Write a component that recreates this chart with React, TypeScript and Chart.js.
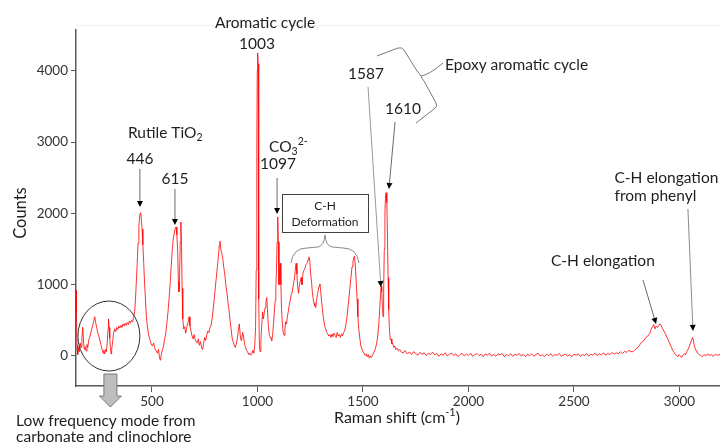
import React, { useEffect, useRef } from "react";
import { Chart, registerables } from "chart.js";

Chart.register(...registerables);

const FONT = "Lato, 'Open Sans', sans-serif";

// ---- axes ----
const xRange = [140, 3192];
const yRange = [-421, 4572];
const xTickValues = [500, 1000, 1500, 2000, 2500, 3000];
const yTickValues = [0, 1000, 2000, 3000, 4000];

// ---- spectrum: [Raman shift (cm-1), counts] ----
const lowFrequency: [number, number][] = [
  [140, 920], [142, 600], [145, 150], [148, 20], [152, 120], [156, 60], [160, 180], [164, 120],
  [168, 260], [172, 400], [176, 180], [180, 90], [184, 130], [188, 70], [192, 160], [196, 120],
  [200, 220], [205, 260], [210, 320], [215, 380], [220, 440], [225, 500], [229, 550], [233, 470],
  [238, 400], [243, 330], [248, 280], [253, 220], [258, 160], [263, 100], [268, 40], [272, 80],
  [276, 30], [280, 90], [284, 60], [288, 180], [292, 380], [294, 520], [297, 400], [300, 250],
  [303, 120], [306, 30], [309, 90], [313, 180], [318, 320], [323, 380], [328, 340], [333, 400],
  [338, 370], [343, 420], [348, 390], [353, 430], [358, 400], [363, 450], [368, 420], [373, 460],
  [378, 430], [383, 470], [388, 440], [393, 490], [398, 460], [403, 500], [408, 480], [413, 540],
  [418, 620],
];

const rutileRegion: [number, number][] = [
  [422, 800], [426, 1050], [430, 1300], [434, 1580], [438, 1820], [442, 1970], [446, 2010],
  [449, 1950], [453, 1780], [457, 1560], [461, 1300], [465, 1020], [469, 800], [473, 580],
  [478, 420], [484, 300], [490, 230], [496, 170], [502, 140], [508, 180], [514, 100], [520, 70],
  [526, 40], [531, 90], [536, -30], [540, -60], [545, 30], [550, 90], [555, 140], [560, 230],
  [566, 330], [571, 470], [576, 620], [581, 800], [586, 1000], [591, 1250], [596, 1480],
  [601, 1640], [606, 1720], [610, 1790], [614, 1810], [618, 1700], [622, 1450], [625, 1050],
  [628, 900], [631, 1150], [634, 1600], [637, 1880], [640, 1550], [643, 950], [646, 520],
  [650, 380], [655, 410], [660, 320], [666, 420], [671, 470], [676, 550], [680, 420], [685, 350],
  [690, 280], [695, 240],
];

const midRegion: [number, number][] = [
  [700, 300], [705, 230], [710, 200], [715, 180], [720, 240], [725, 150], [730, 200], [735, 120],
  [740, 90], [745, 180], [750, 260], [755, 220], [760, 300], [765, 350], [770, 330], [775, 400],
  [780, 430], [785, 520], [790, 650], [795, 800], [800, 950], [805, 1100], [810, 1250],
  [815, 1400], [819, 1550], [822, 1610], [826, 1500], [830, 1450], [835, 1380], [840, 1250],
  [845, 1150], [850, 1000], [855, 900], [860, 760], [865, 650], [870, 500], [875, 380], [880, 250],
  [885, 200], [890, 150], [895, 120], [900, 180], [905, 250], [910, 380], [914, 450], [918, 300],
  [922, 220], [926, 250], [930, 330], [934, 280], [938, 180], [943, 120], [948, 80], [953, 60],
  [958, 20], [963, 40], [968, 10], [973, 30], [978, 80], [983, 40], [987, 150], [991, 400],
];

const aromaticRegion: [number, number][] = [
  [994, 1200], [997, 3000], [999, 4000], [1001, 4250], [1003, 4100], [1005, 2500], [1007, 800],
  [1009, 150], [1012, 60], [1016, 200], [1020, 420], [1024, 620], [1028, 520], [1032, 600],
  [1036, 680], [1040, 760], [1044, 820], [1048, 600], [1052, 400], [1056, 300], [1060, 260],
  [1064, 250], [1068, 210], [1072, 300], [1076, 450], [1080, 620], [1084, 780], [1087, 950],
  [1090, 1200], [1093, 1600], [1096, 1950], [1099, 1600], [1102, 1000], [1105, 1200],
  [1108, 1300], [1111, 1000], [1114, 650], [1118, 450], [1122, 330], [1126, 290], [1130, 380],
  [1134, 480], [1138, 450], [1142, 560], [1146, 620], [1150, 700], [1155, 780], [1160, 860],
  [1165, 900], [1170, 1000], [1175, 1080], [1179, 1200], [1183, 1300], [1187, 1150],
  [1191, 950], [1195, 880], [1199, 1000], [1203, 1050], [1207, 1100], [1211, 1000], [1215, 1150],
  [1220, 1200], [1225, 1230], [1230, 1280], [1235, 1300], [1240, 1350], [1244, 1390],
  [1248, 1330], [1252, 1150], [1256, 1050], [1260, 900], [1264, 800], [1268, 740], [1272, 700],
  [1276, 680], [1280, 780], [1284, 860], [1288, 920], [1292, 980], [1296, 1010],
];

const deformationRegion: [number, number][] = [
  [1300, 900], [1304, 760], [1308, 650], [1313, 520], [1318, 430], [1323, 380], [1328, 330],
  [1333, 310], [1338, 280], [1343, 300], [1348, 260], [1353, 310], [1358, 270], [1363, 320],
  [1368, 290], [1373, 260], [1378, 330], [1383, 280], [1388, 300], [1393, 260], [1398, 310],
  [1403, 280], [1408, 330], [1413, 350], [1418, 420], [1423, 520], [1428, 650], [1433, 800],
  [1438, 950], [1443, 1100], [1448, 1250], [1452, 1300], [1456, 1380], [1460, 1400],
  [1464, 1250], [1468, 1050], [1472, 800], [1476, 550], [1480, 380], [1485, 250], [1490, 140],
  [1495, 100], [1500, 60], [1505, 40], [1510, 10], [1515, 30], [1520, -10], [1525, 20],
  [1530, -30], [1535, 0], [1540, -20], [1545, 10], [1550, 40], [1555, 70], [1560, 120],
  [1565, 180], [1570, 280], [1575, 450], [1579, 650], [1583, 850], [1586, 980], [1589, 900],
  [1592, 700], [1595, 550], [1598, 900], [1601, 1500], [1604, 2000], [1607, 2250], [1610, 2290],
  [1613, 2150], [1616, 1700], [1619, 1100], [1622, 650], [1625, 400], [1629, 230], [1633, 240],
  [1637, 170], [1641, 180], [1646, 120], [1651, 140], [1656, 90], [1662, 110], [1668, 70],
  [1675, 90],
];

const flatBaseline: [number, number][] = [
  [1680, 60], [1690, 40], [1700, 75], [1710, 30], [1720, 55], [1730, 20], [1740, 60], [1750, 35],
  [1760, 10], [1770, 50], [1780, 25], [1790, 45], [1800, 5], [1810, 40], [1820, 20], [1830, 55],
  [1840, 15], [1850, 35], [1860, -5], [1870, 30], [1880, 10], [1890, 45], [1900, 0], [1910, 25],
  [1920, 40], [1930, 5], [1940, 30], [1950, -10], [1960, 20], [1970, 35], [1980, 0], [1990, 25],
  [2000, 10], [2010, 40], [2020, -5], [2030, 20], [2040, 35], [2050, 5], [2060, 25], [2070, -10],
  [2080, 30], [2090, 10], [2100, 40], [2110, 0], [2120, 20], [2130, -5], [2140, 30], [2150, 15],
  [2160, 35], [2170, -10], [2180, 20], [2190, 5], [2200, 30], [2210, -5], [2220, 25], [2230, 10],
  [2240, 35], [2250, 0], [2260, 20], [2270, -10], [2280, 25], [2290, 5], [2300, 30], [2310, -5],
  [2320, 20], [2330, 40], [2340, 0], [2350, 15], [2360, -10], [2370, 25], [2380, 5], [2390, 30],
  [2400, -5], [2410, 20], [2420, 10], [2430, 35], [2440, -5], [2450, 15], [2460, 25], [2470, 0],
  [2480, 20], [2490, -10], [2500, 25], [2510, 10], [2520, 30], [2530, -5], [2540, 20], [2550, 5],
  [2560, 35], [2570, 0], [2580, 25], [2590, 10], [2600, 40], [2610, 5], [2620, 30], [2630, 15],
  [2640, 45], [2650, 10], [2660, 35], [2670, 20], [2680, 50], [2690, 25], [2700, 45], [2710, 30],
  [2720, 60], [2730, 35], [2740, 65], [2750, 50], [2760, 80], [2770, 60],
];

const chStretchRegion: [number, number][] = [
  [2780, 60], [2790, 90], [2800, 110], [2810, 150], [2820, 190], [2830, 210], [2840, 260],
  [2850, 280], [2860, 320], [2866, 380], [2872, 410], [2878, 440], [2884, 380], [2890, 420],
  [2896, 400], [2902, 430], [2908, 450], [2914, 420], [2920, 380], [2926, 350], [2932, 320],
  [2938, 280], [2944, 240], [2950, 200], [2956, 160], [2962, 120], [2968, 80], [2974, 50],
  [2980, 20], [2986, 10], [2992, -10], [2998, 20], [3004, 0], [3010, -20], [3016, 10], [3022, 30],
  [3028, 20], [3034, 60], [3040, 90], [3046, 130], [3052, 180], [3058, 230], [3062, 260],
  [3066, 220], [3070, 150], [3075, 100], [3080, 70], [3086, 40], [3092, 20], [3100, 10],
  [3108, -10], [3116, 20], [3124, 0], [3132, 30], [3140, 10], [3150, 20], [3160, -5], [3170, 25],
  [3180, 10], [3192, 20],
];

const spectrum = [
  ...lowFrequency, ...rutileRegion, ...midRegion, ...aromaticRegion,
  ...deformationRegion, ...flatBaseline, ...chStretchRegion,
].map(([x, y]) => ({ x, y }));

// ---- annotations (positions in data units: cm-1, counts) ----
type Part = { t: string; sub?: boolean; sup?: boolean };
type Label = { parts: Part[]; x: number; y: number; align: "left" | "center"; size: number };

const labels: Label[] = [
  { parts: [{ t: "Aromatic cycle" }], x: 1036, y: 4670, align: "center", size: 15.5 },
  { parts: [{ t: "1003" }], x: 998, y: 4380, align: "center", size: 15.5 },
  { parts: [{ t: "Rutile TiO" }, { t: "2", sub: true }], x: 386, y: 3130, align: "left", size: 15.5 },
  { parts: [{ t: "446" }], x: 443, y: 2765, align: "center", size: 15.5 },
  { parts: [{ t: "615" }], x: 609, y: 2484, align: "center", size: 15.5 },
  { parts: [{ t: "CO" }, { t: "3", sub: true }, { t: "2-", sup: true }], x: 1055, y: 2935, align: "left", size: 15.5 },
  { parts: [{ t: "1097" }], x: 1097, y: 2695, align: "center", size: 15.5 },
  { parts: [{ t: "C-H" }], x: 1320, y: 2104, align: "center", size: 12 },
  { parts: [{ t: "Deformation" }], x: 1320, y: 1879, align: "center", size: 12 },
  { parts: [{ t: "1587" }], x: 1514, y: 3957, align: "center", size: 15.5 },
  { parts: [{ t: "1610" }], x: 1690, y: 3466, align: "center", size: 15.5 },
  { parts: [{ t: "Epoxy aromatic cycle" }], x: 1889, y: 4083, align: "left", size: 15.5 },
  { parts: [{ t: "C-H elongation" }], x: 2637, y: 1334, align: "center", size: 15.5 },
  { parts: [{ t: "C-H elongation" }], x: 2692, y: 2498, align: "left", size: 15.5 },
  { parts: [{ t: "from phenyl" }], x: 2692, y: 2246, align: "left", size: 15.5 },
  { parts: [{ t: "Low frequency mode from" }], x: -144, y: -912, align: "left", size: 15.5 },
  { parts: [{ t: "carbonate and clinochlore" }], x: -144, y: -1136, align: "left", size: 15.5 },
  { parts: [{ t: "Raman shift (cm" }, { t: "-1", sup: true }, { t: ")" }], x: 1661, y: -870, align: "center", size: 16 },
];

type Arrow = { from: [number, number]; to: [number, number]; color: string };
const arrows: Arrow[] = [
  { from: [443, 2623], to: [443, 2090], color: "#6b6b6b" },
  { from: [609, 2342], to: [609, 1837], color: "#6b6b6b" },
  { from: [1093, 2496], to: [1093, 1992], color: "#6b6b6b" },
  { from: [1524, 3773], to: [1585, 968], color: "#9a9a9a" },
  { from: [1652, 3282], to: [1623, 2342], color: "#6b6b6b" },
  { from: [2827, 1066], to: [2889, 449], color: "#6b6b6b" },
  { from: [3040, 2062], to: [3064, 351], color: "#8a8a8a" },
];

const deformationBox = { x0: 1116, y0: 2272, x1: 1524, y1: 1739 };
const deformationBraceTip: [number, number] = [1320, 1697];
const epoxyBraceMid: [number, number] = [1775, 3927];
const lowFreqCircle: [number, number] = [296, 280];
const countsTitle: [number, number] = [-121, 2005];

function drawRich(ctx: CanvasRenderingContext2D, lab: Label, px: number, py: number) {
  const s = lab.size;
  const small = s * 0.68;
  const widths = lab.parts.map((p) => {
    ctx.font = `${p.sub || p.sup ? small : s}px ${FONT}`;
    return ctx.measureText(p.t).width;
  });
  const total = widths.reduce((a, b) => a + b, 0);
  let x = lab.align === "center" ? px - total / 2 : px;
  ctx.textAlign = "left";
  ctx.textBaseline = "middle";
  lab.parts.forEach((p, i) => {
    ctx.font = `${p.sub || p.sup ? small : s}px ${FONT}`;
    const dy = p.sub ? s * 0.3 : p.sup ? -s * 0.35 : 0;
    ctx.fillText(p.t, x, py + dy);
    x += widths[i];
  });
}

function drawArrow(ctx: CanvasRenderingContext2D, x1: number, y1: number, x2: number, y2: number, color: string) {
  const ang = Math.atan2(y2 - y1, x2 - x1);
  const L = 6;
  const W = 3;
  const bx = x2 - L * Math.cos(ang);
  const by = y2 - L * Math.sin(ang);
  ctx.strokeStyle = color;
  ctx.lineWidth = 1;
  ctx.beginPath();
  ctx.moveTo(x1, y1);
  ctx.lineTo(bx, by);
  ctx.stroke();
  ctx.fillStyle = "#000";
  ctx.beginPath();
  ctx.moveTo(x2, y2);
  ctx.lineTo(bx + W * Math.sin(ang), by - W * Math.cos(ang));
  ctx.lineTo(bx - W * Math.sin(ang), by + W * Math.cos(ang));
  ctx.closePath();
  ctx.fill();
}

const annotationPlugin = {
  id: "ramanAnnotations",
  beforeDraw(chart: any) {
    const { ctx, chartArea } = chart;
    ctx.save();
    ctx.fillStyle = "#fff";
    ctx.fillRect(0, 0, chart.width, chart.height);
    ctx.strokeStyle = "#eeeeee";
    ctx.lineWidth = 1;
    ctx.beginPath();
    ctx.moveTo(chartArea.left, chartArea.top - 4.5);
    ctx.lineTo(chartArea.right, chartArea.top - 4.5);
    ctx.stroke();
    ctx.restore();
  },
  afterDraw(chart: any) {
    const { ctx } = chart;
    const sx = chart.scales.x;
    const sy = chart.scales.y;
    const X = (v: number) => sx.getPixelForValue(v);
    const Y = (v: number) => sy.getPixelForValue(v);
    ctx.save();

    // text labels
    labels.forEach((l) => {
      ctx.fillStyle = "#1e1e1e";
      drawRich(ctx, l, X(l.x), Y(l.y));
    });

    // y axis title
    ctx.save();
    ctx.translate(X(countsTitle[0]), Y(countsTitle[1]));
    ctx.rotate(-Math.PI / 2);
    ctx.font = `16.5px ${FONT}`;
    ctx.textAlign = "center";
    ctx.textBaseline = "middle";
    ctx.fillStyle = "#1e1e1e";
    ctx.fillText("Counts", 0, 0);
    ctx.restore();

    // arrows
    arrows.forEach((a) => drawArrow(ctx, X(a.from[0]), Y(a.from[1]), X(a.to[0]), Y(a.to[1]), a.color));

    // C-H deformation box
    const bx0 = Math.round(X(deformationBox.x0)) + 0.5;
    const by0 = Math.round(Y(deformationBox.y0)) + 0.5;
    const bx1 = Math.round(X(deformationBox.x1)) + 0.5;
    const by1 = Math.round(Y(deformationBox.y1)) + 0.5;
    ctx.strokeStyle = "#404040";
    ctx.lineWidth = 1;
    ctx.strokeRect(bx0, by0, bx1 - bx0, by1 - by0);

    // brace under the box
    const [tx, ty] = [X(deformationBraceTip[0]), Y(deformationBraceTip[1])];
    ctx.strokeStyle = "#8a8a8a";
    ctx.beginPath();
    for (const sgn of [-1, 1]) {
      ctx.moveTo(tx + sgn * 34, ty + 28);
      ctx.quadraticCurveTo(tx + sgn * 32, ty + 13, tx + sgn * 18, ty + 13);
      ctx.lineTo(tx + sgn * 7, ty + 12);
      ctx.quadraticCurveTo(tx + sgn * 1, ty + 11, tx, ty);
    }
    ctx.stroke();

    // epoxy brace
    const [ex, ey] = [X(epoxyBraceMid[0]), Y(epoxyBraceMid[1])];
    ctx.strokeStyle = "#7a7a7a";
    ctx.beginPath();
    ctx.moveTo(ex, ey);
    ctx.quadraticCurveTo(ex - 2, ey - 3, ex - 4, ey - 5);
    ctx.lineTo(ex - 17, ey - 26);
    ctx.quadraticCurveTo(ex - 19, ey - 29, ex - 23, ey - 28);
    ctx.lineTo(ex - 44, ey - 20);
    ctx.moveTo(ex, ey);
    ctx.quadraticCurveTo(ex + 1, ey + 3, ex + 3, ey + 5);
    ctx.lineTo(ex + 15, ey + 27);
    ctx.quadraticCurveTo(ex + 17, ey + 31, ex + 13, ey + 33);
    ctx.lineTo(ex - 5, ey + 47);
    ctx.moveTo(ex, ey);
    ctx.quadraticCurveTo(ex + 8, ey - 1, ex + 22, ey - 13);
    ctx.stroke();

    // circle around low-frequency modes
    const [cx, cy] = [X(lowFreqCircle[0]), Y(lowFreqCircle[1])];
    ctx.strokeStyle = "#333";
    ctx.beginPath();
    ctx.ellipse(cx, cy, 31, 35, 0, 0, Math.PI * 2);
    ctx.stroke();

    // block arrow
    const ax = cx + 1.5;
    ctx.fillStyle = "#bdbdbd";
    ctx.strokeStyle = "#7a7a7a";
    ctx.beginPath();
    ctx.moveTo(ax - 6.5, cy + 38);
    ctx.lineTo(ax + 6.5, cy + 38);
    ctx.lineTo(ax + 6.5, cy + 60);
    ctx.lineTo(ax + 11, cy + 60);
    ctx.lineTo(ax, cy + 71);
    ctx.lineTo(ax - 11, cy + 60);
    ctx.lineTo(ax - 6.5, cy + 60);
    ctx.closePath();
    ctx.fill();
    ctx.stroke();

    ctx.restore();
  },
};

export default function App() {
  const canvasRef = useRef<HTMLCanvasElement | null>(null);

  useEffect(() => {
    document.body.style.margin = "0";
    const canvas = canvasRef.current;
    if (!canvas) return;
    const axisColor = "#595959";
    const chart = new Chart(canvas, {
      type: "line",
      data: {
        datasets: [
          {
            data: spectrum,
            borderColor: "rgba(255, 0, 0, 0.8)",
            borderWidth: 1,
            pointRadius: 0,
            tension: 0,
            fill: false,
          },
        ],
      },
      options: {
        animation: false,
        responsive: false,
        devicePixelRatio: 1,
        layout: { padding: { top: 30, left: 0, right: 0, bottom: 0 } },
        plugins: { legend: { display: false }, tooltip: { enabled: false } },
        scales: {
          x: {
            type: "linear",
            min: xRange[0],
            max: xRange[1],
            afterBuildTicks: (axis: any) => {
              axis.ticks = xTickValues.map((v) => ({ value: v }));
            },
            afterFit: (axis: any) => {
              axis.height = 62;
            },
            ticks: {
              font: { family: FONT, size: 13.5 },
              color: "#333",
              padding: 2,
              maxRotation: 0,
              autoSkip: false,
              callback: (v: any) => String(v),
            },
            grid: { drawOnChartArea: false, drawTicks: true, tickLength: 6, color: axisColor, lineWidth: 1 },
            border: { display: true, color: axisColor, width: 1.5 },
          },
          y: {
            type: "linear",
            min: yRange[0],
            max: yRange[1],
            afterBuildTicks: (axis: any) => {
              axis.ticks = yTickValues.map((v) => ({ value: v }));
            },
            afterFit: (axis: any) => {
              axis.width = 76;
            },
            ticks: {
              font: { family: FONT, size: 13.5 },
              color: "#333",
              padding: 3,
              autoSkip: false,
              callback: (v: any) => String(v),
            },
            grid: { drawOnChartArea: false, drawTicks: true, tickLength: 5, color: axisColor, lineWidth: 1 },
            border: { display: true, color: axisColor, width: 1.5 },
          },
        },
      },
      plugins: [annotationPlugin],
    });
    return () => chart.destroy();
  }, []);

  return (
    <div style={{ position: "absolute", left: 0, top: 0, width: 720, height: 448 }}>
      <canvas ref={canvasRef} width={720} height={448} style={{ display: "block" }} />
    </div>
  );
}
